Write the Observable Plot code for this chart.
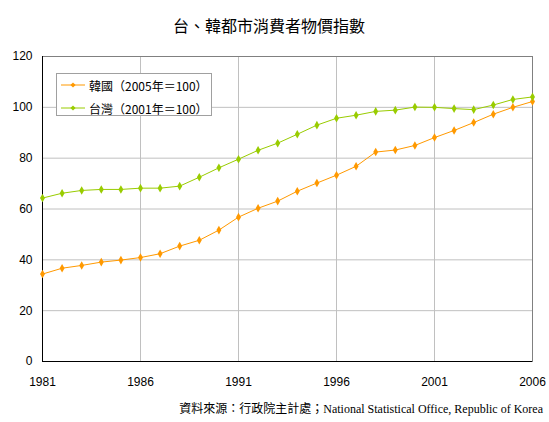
<!DOCTYPE html>
<html>
<head>
<meta charset="utf-8">
<script src="https://cdn.jsdelivr.net/npm/d3@7"></script>
<script src="https://cdn.jsdelivr.net/npm/@observablehq/plot@0.6"></script>
<style>
  body { margin: 0; background: white; }
  #wrap { position: relative; width: 549px; height: 422px; background: white; overflow: hidden; }
  #title { position: absolute; top: 13px; left: 0; width: 538px; text-align: center; font-family: "Noto Sans CJK TC", sans-serif; font-size: 16px; line-height: 24px; color: #000; }
  #chart { position: absolute; top: 40px; left: 0; }
  #legend { position: absolute; left: 56px; top: 73px; width: 156px; height: 43px; border: 1px solid #a0a0a0; background: white; box-sizing: border-box; font-family: "Noto Sans CJK TC", sans-serif; font-size: 12px; color: #000; }
  .item { position: absolute; left: 4px; height: 20px; display: flex; align-items: center; }
  .item svg { margin-right: 4px; }
  #caption { position: absolute; right: 6px; top: 399px; font-size: 12px; line-height: 18px; color: #000; white-space: nowrap; }
  #caption .cjk { font-family: "Noto Sans CJK TC", sans-serif; }
  #caption .en { font-family: "Liberation Serif", "Times New Roman", serif; }
</style>
</head>
<body>
<div id="wrap">
  <div id="title"></div>
  <div id="chart"></div>
  <div id="legend"></div>
  <div id="caption"></div>
</div>
<script>
const titleText = "台、韓都市消費者物價指數";
const captionCJK = "資料來源：行政院主計處；";
const captionEN = "National Statistical Office, Republic of Korea";

const years = [1981, 1982, 1983, 1984, 1985, 1986, 1987, 1988, 1989, 1990,
               1991, 1992, 1993, 1994, 1995, 1996, 1997, 1998, 1999, 2000,
               2001, 2002, 2003, 2004, 2005, 2006];
const korea = [34.4, 36.7, 37.8, 39.1, 39.9, 40.9, 42.4, 45.4, 47.7, 51.7,
               56.8, 60.3, 63.1, 67.0, 70.2, 73.3, 76.8, 82.4, 83.2, 85.0,
               88.1, 90.9, 94.0, 97.3, 100.0, 102.3];
const taiwan = [64.3, 66.2, 67.3, 67.7, 67.7, 68.2, 68.2, 69.0, 72.5, 76.2,
                79.6, 83.1, 85.9, 89.4, 93.0, 95.7, 96.9, 98.4, 98.9, 100.1,
                100.0, 99.5, 99.1, 100.9, 103.1, 104.1];
const seriesNames = ["韓國（2005年＝100）", "台灣（2001年＝100）"];
const seriesColors = ["#ff9900", "#99cc00"];
const xTicks = [1981, 1986, 1991, 1996, 2001, 2006];
const xGrid = [1986, 1991, 1996, 2001];
const yTicks = [0, 20, 40, 60, 80, 100, 120];

const seriesValues = [korea, taiwan];
const data = [];
seriesValues.forEach((vals, si) => {
  vals.forEach((v, i) => data.push({ series: seriesNames[si], year: years[i], value: v }));
});

const chart = Plot.plot({
  width: 549,
  height: 355,
  marginTop: 16,
  marginBottom: 34,
  marginLeft: 42,
  marginRight: 17,
  style: { fontFamily: "'Liberation Sans', Arial, sans-serif", fontSize: "12px", color: "#000", background: "white" },
  x: { type: "linear", domain: [1981, 2006] },
  y: { domain: [0, 120] },
  color: { domain: seriesNames, range: seriesColors },
  marks: [
    Plot.gridY(yTicks.filter(d => d > 0), { stroke: "#c0c0c0", strokeOpacity: 1 }),
    Plot.gridX(xGrid, { stroke: "#c0c0c0", strokeOpacity: 1 }),
    Plot.frame({ stroke: "#808080" }),
    Plot.ruleY([0], { stroke: "#000" }),
    Plot.ruleX([1981], { stroke: "#000" }),
    Plot.axisX(xTicks, { tickSize: 0, tickPadding: 16, tickFormat: d => String(d), label: null }),
    Plot.axisY(yTicks, { tickSize: 0, tickPadding: 10, label: null }),
    Plot.line(data, { x: "year", y: "value", z: "series", stroke: "series", strokeWidth: 1 }),
    Plot.dot(data, { x: "year", y: "value", fill: "series", symbol: "diamond", r: 2.6, stroke: null })
  ]
});
document.getElementById("chart").appendChild(chart);

document.getElementById("title").textContent = titleText;

const legend = document.getElementById("legend");
seriesNames.forEach((name, i) => {
  const item = document.createElement("div");
  item.className = "item";
  item.style.top = (i === 0 ? 1 : 24) + "px";
  const c = seriesColors[i];
  item.innerHTML = `<svg width="24" height="10"><line x1="0" y1="5" x2="24" y2="5" stroke="${c}" stroke-width="1"/><path d="M12,2.4L14.6,5L12,7.6L9.4,5Z" fill="${c}"/></svg>`;
  const span = document.createElement("span");
  span.textContent = name;
  item.appendChild(span);
  legend.appendChild(item);
});

const cap = document.getElementById("caption");
const s1 = document.createElement("span"); s1.className = "cjk"; s1.textContent = captionCJK;
const s2 = document.createElement("span"); s2.className = "en"; s2.textContent = captionEN;
cap.appendChild(s1); cap.appendChild(s2);
</script>
</body>
</html>
